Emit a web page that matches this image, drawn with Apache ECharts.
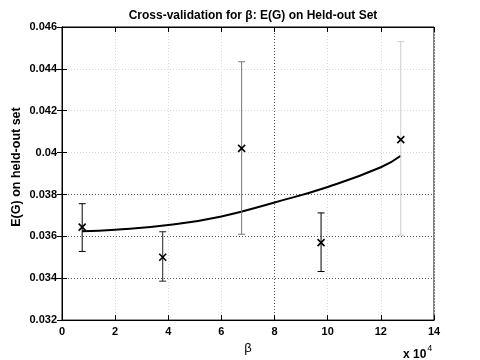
<!DOCTYPE html>
<html>
<head>
<meta charset="utf-8">
<script src="https://cdn.jsdelivr.net/npm/echarts@6/dist/echarts.min.js"></script>
<style>
  html, body { margin: 0; padding: 0; background: #fff; }
  #chart { width: 480px; height: 360px; }
</style>
</head>
<body>
<div id="chart"></div>
<script>
  // measured points (beta in units of 1e4)
  const betaPts = [0.76, 3.79, 6.76, 9.75, 12.75];
  const meanErr = [0.03644, 0.03500, 0.04020, 0.03570, 0.04062];
  const lowErr  = [0.03528, 0.03386, 0.03610, 0.03432, 0.03606];
  const highErr = [0.03756, 0.03622, 0.04434, 0.03712, 0.04530];

  // fitted curve
  const fitX = [0.76, 2, 4, 6, 8, 10, 12, 12.75];
  const fitY = [0.03624, 0.03631, 0.03654, 0.03695, 0.03762, 0.03836, 0.03930, 0.03985];

  const xTicks = [0, 2, 4, 6, 8, 10, 12, 14];
  const yTicks = [0.032, 0.034, 0.036, 0.038, 0.04, 0.042, 0.044, 0.046];

  // bar tones as they appear in the figure
  const barColors = ['#000', '#222', '#777', '#000', '#ccc'];

  const font = '"Liberation Sans", Arial, sans-serif';
  const chart = echarts.init(document.getElementById('chart'));

  const errData = betaPts.map((b, i) => [b, meanErr[i], lowErr[i], highErr[i]]);

  function renderErr(params, api) {
    const x = api.value(0);
    const pm = api.coord([x, api.value(1)]);
    const pl = api.coord([x, api.value(2)]);
    const ph = api.coord([x, api.value(3)]);
    const c = barColors[params.dataIndex];
    const cap = 3.5, m = 3.5;
    const bar = { stroke: c, lineWidth: 1 };
    const mk = { stroke: '#000', lineWidth: 1.6 };
    return {
      type: 'group',
      children: [
        { type: 'line', shape: { x1: pl[0], y1: pl[1], x2: ph[0], y2: ph[1] }, style: bar },
        { type: 'line', shape: { x1: ph[0] - cap, y1: ph[1], x2: ph[0] + cap, y2: ph[1] }, style: bar },
        { type: 'line', shape: { x1: pl[0] - cap, y1: pl[1], x2: pl[0] + cap, y2: pl[1] }, style: bar },
        { type: 'line', shape: { x1: pm[0] - m, y1: pm[1] - m, x2: pm[0] + m, y2: pm[1] + m }, style: mk },
        { type: 'line', shape: { x1: pm[0] - m, y1: pm[1] + m, x2: pm[0] + m, y2: pm[1] - m }, style: mk }
      ]
    };
  }

  // grid tones: most lines pale, a few drawn darker (as in the figure)
  const L = '#d8d8d8', D = '#555';
  const tick = { show: true, inside: true, length: 5, lineStyle: { color: '#000' } };

  chart.setOption({
    animation: false,
    backgroundColor: '#fff',
    title: {
      text: 'Cross-validation for β: E(G) on Held-out Set',
      left: 248, top: 5, textAlign: 'center',
      textStyle: { fontFamily: font, fontSize: 12, fontWeight: 'bold', color: '#000' }
    },
    grid: { left: 62, right: 46, top: 27, bottom: 38, show: true, borderColor: '#000', borderWidth: 1 },
    xAxis: [{
      type: 'value', min: 0, max: 14, interval: 2,
      name: 'β', nameLocation: 'middle', nameGap: 16,
      nameTextStyle: { fontFamily: font, fontSize: 13, color: '#000' },
      axisLine: { show: true, lineStyle: { color: '#000' } },
      axisTick: tick,
      axisLabel: { fontFamily: font, fontSize: 11, fontWeight: 'bold', color: '#000', margin: 6,
        formatter: v => xTicks.includes(v) ? String(v) : '' },
      splitLine: { show: true, lineStyle: { color: [L, L, L, L, D, L, L, L], type: [1, 2], width: 1 } }
    }, {
      type: 'value', min: 0, max: 14, interval: 2, position: 'top',
      axisLine: { show: true, lineStyle: { color: '#000' } },
      axisTick: tick, axisLabel: { show: false }, splitLine: { show: false }
    }],
    yAxis: [{
      type: 'value', min: 0.032, max: 0.046, interval: 0.002,
      axisLine: { show: true, lineStyle: { color: '#000' } },
      axisTick: tick,
      axisLabel: { fontFamily: font, fontSize: 11, fontWeight: 'bold', color: '#000', margin: 5,
        formatter: v => {
          const t = yTicks.find(y => Math.abs(y - v) < 1e-9);
          return t === undefined ? '' : String(t);
        } },
      splitLine: { show: true, lineStyle: { color: [L, D, D, D, L, L, L, L], type: [1, 2], width: 1 } }
    }, {
      type: 'value', min: 0.032, max: 0.046, interval: 0.002, position: 'right',
      axisLine: { show: true, lineStyle: { color: '#000' } },
      axisTick: tick, axisLabel: { show: false }, splitLine: { show: false }
    }],
    graphic: [{
      type: 'text', left: 403, top: 344,
      style: {
        text: '{a|x 10}{b|4}',
        rich: {
          a: { fontFamily: font, fontSize: 12, fontWeight: 'bold', fill: '#000', verticalAlign: 'bottom' },
          b: { fontFamily: font, fontSize: 9, fill: '#000', verticalAlign: 'top', padding: [0, 0, 8, 1] }
        }
      }
    }, {
      type: 'text', x: 17, y: 167, rotation: Math.PI / 2,
      style: {
        text: 'E(G) on held-out set', align: 'center', verticalAlign: 'middle',
        fontFamily: font, fontSize: 12.5, fontWeight: 'bold', fill: '#000'
      }
    }],
    series: [{
      type: 'line',
      data: fitX.map((x, i) => [x, fitY[i]]),
      smooth: true, showSymbol: false, silent: true,
      lineStyle: { color: '#000', width: 2 }
    }, {
      type: 'custom',
      renderItem: renderErr,
      data: errData,
      encode: { x: 0, y: [1, 2, 3] },
      z: 5
    }]
  });
</script>
</body>
</html>
